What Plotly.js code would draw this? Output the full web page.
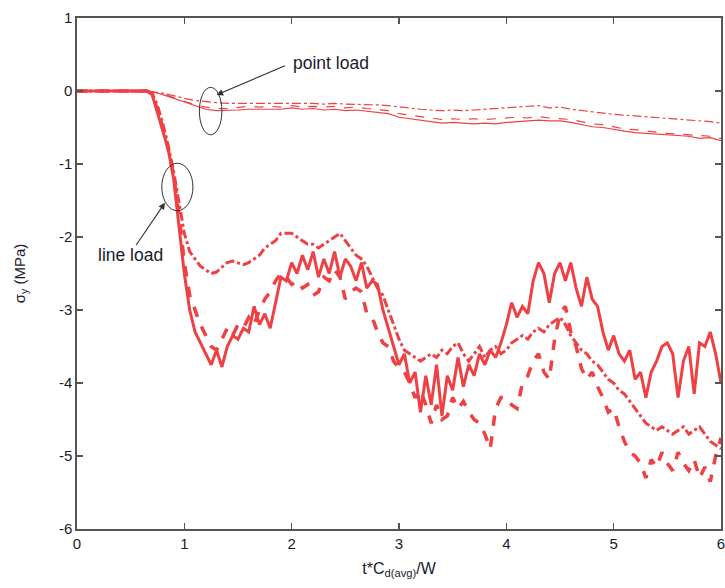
<!DOCTYPE html>
<html>
<head>
<meta charset="utf-8">
<script src="https://cdn.plot.ly/plotly-3.0.1.min.js"></script>
<style>html,body{margin:0;padding:0;background:#fff;}#chart{width:725px;height:588px;}</style>
</head>
<body>
<div id="chart"></div>
<script>
// time axis samples for line-load curves
const xLine = [0,0.05,0.1,0.15,0.2,0.25,0.3,0.35,0.4,0.45,0.5,0.55,0.6,0.65,0.7,0.75,0.8,0.85,0.9,0.95,
1,1.05,1.1,1.15,1.2,1.25,1.3,1.35,1.4,1.45,1.5,1.55,1.6,1.65,1.7,1.75,1.8,1.85,1.9,1.95,
2,2.05,2.1,2.15,2.2,2.25,2.3,2.35,2.4,2.45,2.5,2.55,2.6,2.65,2.7,2.75,2.8,2.85,2.9,2.95,
3,3.05,3.1,3.15,3.2,3.25,3.3,3.35,3.4,3.45,3.5,3.55,3.6,3.65,3.7,3.75,3.8,3.85,3.9,3.95,
4,4.05,4.1,4.15,4.2,4.25,4.3,4.35,4.4,4.45,4.5,4.55,4.6,4.65,4.7,4.75,4.8,4.85,4.9,4.95,
5,5.05,5.1,5.15,5.2,5.25,5.3,5.35,5.4,5.45,5.5,5.55,5.6,5.65,5.7,5.75,5.8,5.85,5.9,5.95,6];

const lineSolid = [0,0,0,0,0,0,0,0,0,0,0,0,0,0,-0.05,-0.3,-0.55,-0.8,-1.2,-1.85,
-2.5,-3.0,-3.3,-3.45,-3.6,-3.75,-3.55,-3.78,-3.5,-3.35,-3.4,-3.25,-3.3,-2.95,-3.2,-3.05,-3.25,-2.9,-2.55,-2.6,
-2.35,-2.5,-2.25,-2.45,-2.2,-2.55,-2.3,-2.5,-2.2,-2.55,-2.3,-2.4,-2.6,-2.35,-2.7,-2.6,-2.65,-3.0,-3.25,-3.5,
-3.75,-3.6,-4.0,-3.85,-4.4,-3.9,-4.3,-3.75,-4.45,-3.9,-4.1,-3.65,-4.05,-3.75,-3.9,-3.6,-3.75,-3.55,-3.65,-3.45,
-3.2,-2.9,-3.1,-2.95,-3.05,-2.6,-2.35,-2.5,-2.9,-2.5,-2.35,-2.6,-2.35,-2.7,-2.95,-2.55,-2.85,-2.95,-3.3,-3.55,
-3.35,-3.6,-3.7,-3.55,-3.95,-3.85,-4.2,-3.85,-3.7,-3.5,-3.45,-3.6,-4.2,-3.7,-3.5,-4.15,-3.45,-3.5,-3.3,-3.6,-4.0];

const lineDashed = [0,0,0,0,0,0,0,0,0,0,0,0,0,0,-0.03,-0.25,-0.5,-0.8,-1.15,-1.7,
-2.35,-2.8,-3.0,-3.2,-3.35,-3.5,-3.55,-3.4,-3.25,-3.35,-3.2,-3.25,-3.1,-3.2,-3.0,-2.85,-2.75,-2.6,-2.5,-2.55,
-2.65,-2.6,-2.7,-2.65,-2.8,-2.75,-2.55,-2.6,-2.45,-2.55,-2.85,-2.75,-2.7,-2.75,-3.05,-3.1,-3.3,-3.45,-3.5,-3.7,
-3.8,-3.85,-4.0,-4.2,-4.1,-4.3,-4.55,-4.3,-4.5,-4.45,-4.2,-4.35,-4.25,-4.4,-4.5,-4.55,-4.7,-4.9,-4.35,-4.2,
-4.2,-4.3,-4.35,-4.0,-3.9,-3.7,-3.6,-3.85,-3.95,-3.4,-3.05,-2.95,-3.3,-3.5,-3.8,-3.95,-3.85,-4.05,-4.2,-4.4,
-4.35,-4.6,-4.8,-4.95,-5.0,-5.1,-5.3,-5.05,-5.15,-4.95,-5.1,-5.2,-4.95,-5.1,-5.2,-5.05,-5.3,-5.15,-5.35,-5.0,-4.75];

const lineDashDot = [0,0,0,0,0,0,0,0,0,0,0,0,0,0,-0.03,-0.2,-0.45,-0.75,-1.1,-1.55,
-1.95,-2.2,-2.3,-2.4,-2.45,-2.5,-2.48,-2.42,-2.35,-2.33,-2.35,-2.38,-2.35,-2.3,-2.25,-2.15,-2.1,-2.05,-1.95,-1.95,
-1.95,-2.0,-2.05,-2.1,-2.1,-2.15,-2.1,-2.05,-2.0,-1.95,-2.05,-2.15,-2.25,-2.3,-2.4,-2.55,-2.7,-2.8,-3.0,-3.2,
-3.4,-3.55,-3.6,-3.65,-3.7,-3.65,-3.6,-3.65,-3.55,-3.6,-3.5,-3.45,-3.6,-3.7,-3.6,-3.5,-3.65,-3.55,-3.5,-3.6,
-3.55,-3.45,-3.4,-3.35,-3.4,-3.3,-3.25,-3.3,-3.2,-3.15,-3.1,-3.2,-3.35,-3.45,-3.55,-3.6,-3.7,-3.75,-3.85,-3.95,
-4.0,-4.1,-4.15,-4.25,-4.35,-4.45,-4.55,-4.6,-4.65,-4.6,-4.65,-4.7,-4.65,-4.6,-4.7,-4.65,-4.6,-4.7,-4.8,-4.85,-4.9];

// time axis samples for point-load curves
const xPoint = [0,0.1,0.2,0.3,0.4,0.5,0.6,0.7,0.8,0.9,1,1.1,1.2,1.3,1.4,1.5,1.6,1.7,1.8,1.9,
2,2.1,2.2,2.3,2.4,2.5,2.6,2.7,2.8,2.9,3,3.1,3.2,3.3,3.4,3.5,3.6,3.7,3.8,3.9,
4,4.1,4.2,4.3,4.4,4.5,4.6,4.7,4.8,4.9,5,5.1,5.2,5.3,5.4,5.5,5.6,5.7,5.8,5.9,6];

const pointSolid = [0,0,0,0,0,0,0,-0.01,-0.05,-0.1,-0.16,-0.21,-0.25,-0.27,-0.27,-0.26,-0.25,-0.25,-0.24,-0.25,
-0.23,-0.25,-0.24,-0.26,-0.25,-0.27,-0.26,-0.28,-0.3,-0.31,-0.36,-0.38,-0.41,-0.42,-0.44,-0.43,-0.44,-0.45,-0.44,-0.45,
-0.43,-0.42,-0.41,-0.4,-0.41,-0.41,-0.43,-0.46,-0.49,-0.5,-0.53,-0.55,-0.57,-0.58,-0.6,-0.61,-0.61,-0.62,-0.65,-0.64,-0.68];

const pointDashed = [0,0,0,0,0,0,0,-0.01,-0.04,-0.09,-0.14,-0.19,-0.22,-0.24,-0.24,-0.22,-0.21,-0.22,-0.21,-0.22,
-0.2,-0.22,-0.21,-0.22,-0.21,-0.23,-0.22,-0.24,-0.25,-0.27,-0.31,-0.33,-0.36,-0.37,-0.39,-0.38,-0.39,-0.38,-0.39,-0.38,
-0.37,-0.36,-0.37,-0.35,-0.37,-0.38,-0.39,-0.42,-0.45,-0.46,-0.49,-0.52,-0.53,-0.55,-0.56,-0.58,-0.59,-0.6,-0.61,-0.62,-0.65];

const pointDashDot = [0,0,0,0,0,0,0,-0.01,-0.03,-0.07,-0.1,-0.13,-0.15,-0.16,-0.17,-0.17,-0.16,-0.17,-0.16,-0.17,
-0.16,-0.17,-0.17,-0.18,-0.17,-0.18,-0.18,-0.18,-0.19,-0.2,-0.22,-0.24,-0.25,-0.26,-0.27,-0.26,-0.27,-0.26,-0.25,-0.24,
-0.24,-0.23,-0.22,-0.2,-0.23,-0.22,-0.25,-0.27,-0.29,-0.31,-0.32,-0.33,-0.34,-0.35,-0.36,-0.37,-0.39,-0.4,-0.41,-0.42,-0.44];

const xTicks = [0,1,2,3,4,5,6];
const yTicks = [1,0,-1,-2,-3,-4,-5,-6];

const RED = '#ef4044';
const FONT = 'Liberation Sans, Arial, sans-serif';
const TXT = '#1a1a2e';
const traces = [
  {x: xPoint, y: pointDashDot, mode:'lines', line:{color:RED, width:1.2, dash:'dashdot'}},
  {x: xPoint, y: pointDashed, mode:'lines', line:{color:RED, width:1.2, dash:'dash'}},
  {x: xPoint, y: pointSolid, mode:'lines', line:{color:RED, width:1.2}},
  {x: xLine, y: lineDashDot, mode:'lines', line:{color:RED, width:3, dash:'dashdot'}},
  {x: xLine, y: lineDashed, mode:'lines', line:{color:RED, width:3.5, dash:'dash'}},
  {x: xLine, y: lineSolid, mode:'lines', line:{color:RED, width:3}}
];

const axisCommon = {
  showgrid:false, zeroline:false, showline:true, linecolor:'#555', linewidth:1.6,
  mirror:'allticks', ticks:'inside', ticklen:6, tickcolor:'#555', tickwidth:1.2,
  ticklabeloverflow:'allow',
  tickfont:{family:FONT, size:15, color:TXT}
};

const layout = {
  width:725, height:588,
  margin:{l:77, r:4, t:18, b:59},
  paper_bgcolor:'#fff', plot_bgcolor:'#fff',
  showlegend:false,
  xaxis: Object.assign({}, axisCommon, {
    range:[0,6], tickvals:xTicks, ticktext:xTicks.map(String),
    title:{text:'t*C<sub>d(avg)</sub>/W', standoff:12, font:{family:FONT, size:16, color:TXT}}
  }),
  yaxis: Object.assign({}, axisCommon, {
    range:[-6,1], tickvals:yTicks, ticktext:yTicks.map(String),
    title:{text:'σ<sub>y</sub> (MPa)', standoff:30, font:{family:FONT, size:15, color:TXT}}
  }),
  shapes:[
    {type:'circle', xref:'x', yref:'y', x0:1.14, x1:1.35, y0:-0.6, y1:0.05, line:{color:'#333', width:1}},
    {type:'circle', xref:'x', yref:'y', x0:0.79, x1:1.08, y0:-1.64, y1:-0.99, line:{color:'#333', width:1}}
  ],
  annotations:[
    {x:1.3, y:-0.055, xref:'x', yref:'y', text:'', showarrow:true, ax:70, ay:-30,
      arrowhead:2, arrowsize:1.2, arrowwidth:1.1, arrowcolor:'#333'},
    {x:0.82, y:-1.53, xref:'x', yref:'y', text:'', showarrow:true, ax:-30, ay:44,
      arrowhead:2, arrowsize:1.2, arrowwidth:1.1, arrowcolor:'#333'},
    {xref:'paper', yref:'paper', xanchor:'center', yanchor:'middle', text:'point load', showarrow:false,
      font:{family:FONT, size:17.5, color:TXT}},
    {xref:'paper', yref:'paper', xanchor:'center', yanchor:'middle', text:'line load', showarrow:false,
      font:{family:FONT, size:17.5, color:TXT}}
  ]
};
// convert text annotation pixel positions to paper coordinates
const pw = 725-77-4, ph = 588-18-59;
layout.annotations[2].x = (331-77)/pw; layout.annotations[2].y = 1-(63-18)/ph;
layout.annotations[3].x = (130-77)/pw; layout.annotations[3].y = 1-(255-18)/ph;

Plotly.newPlot('chart', traces, layout, {displayModeBar:false, staticPlot:true});
</script>
</body>
</html>
